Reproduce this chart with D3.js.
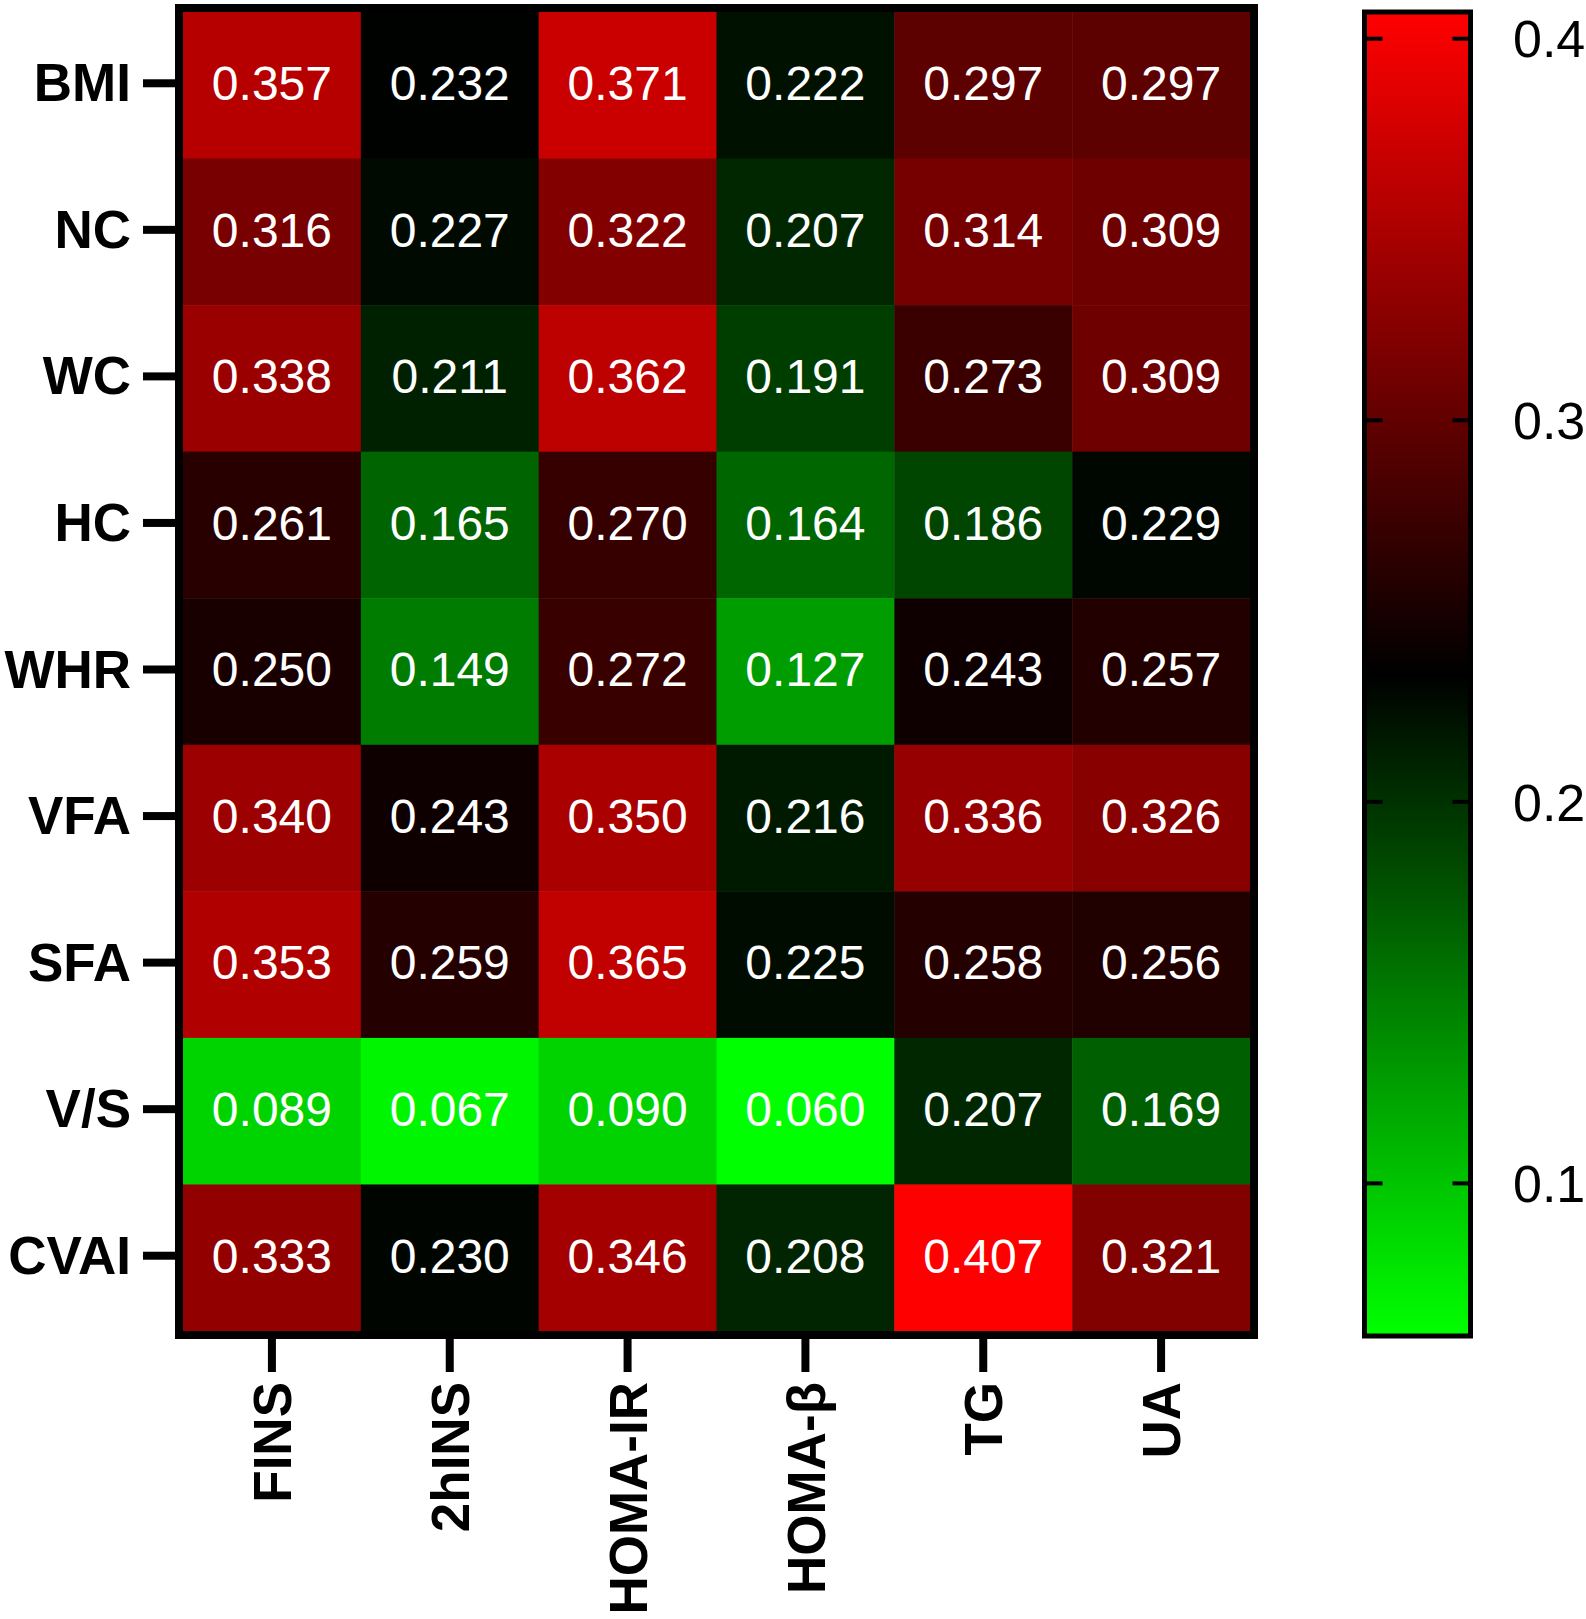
<!DOCTYPE html>
<html>
<head>
<meta charset="utf-8">
<script src="https://cdn.jsdelivr.net/npm/d3@7"></script>
<style>
  html, body { margin: 0; padding: 0; background: #fff; }
  svg { display: block; font-family: "Liberation Sans", Arial, Helvetica, sans-serif; }
</style>
</head>
<body>
<div id="chart"></div>
<script>
/* data */
var rowNames = ["BMI", "NC", "WC", "HC", "WHR", "VFA", "SFA", "V/S", "CVAI"];
var colNames = ["FINS", "2hINS", "HOMA-IR", "HOMA-\u03b2", "TG", "UA"];
var FINS    = [0.357, 0.316, 0.338, 0.261, 0.250, 0.340, 0.353, 0.089, 0.333];
var twoHINS = [0.232, 0.227, 0.211, 0.165, 0.149, 0.243, 0.259, 0.067, 0.230];
var HOMA_IR = [0.371, 0.322, 0.362, 0.270, 0.272, 0.350, 0.365, 0.090, 0.346];
var HOMA_B  = [0.222, 0.207, 0.191, 0.164, 0.127, 0.216, 0.225, 0.060, 0.208];
var TG      = [0.297, 0.314, 0.273, 0.186, 0.243, 0.336, 0.258, 0.207, 0.407];
var UA      = [0.297, 0.309, 0.309, 0.229, 0.257, 0.326, 0.256, 0.169, 0.321];
var colorDomain = [0.060, 0.407];
var colorbarTicks = [0.1, 0.2, 0.3, 0.4];

var columns = [FINS, twoHINS, HOMA_IR, HOMA_B, TG, UA];

/* layout */
var W = 1586, H = 1619;
var cellLeft = 183, cellRight = 1250, cellTop = 12, cellBottom = 1331;
var frameW = 8;
var cbLeft = 1364.5, cbRight = 1470.5, cbTop = 12, cbBottom = 1336;

var svg = d3.select("#chart").append("svg")
  .attr("width", W).attr("height", H);

var x = d3.scaleBand().domain(colNames).range([cellLeft, cellRight]);
var y = d3.scaleBand().domain(rowNames).range([cellTop, cellBottom]);

var mid = (colorDomain[0] + colorDomain[1]) / 2;
var color = d3.scaleLinear()
  .domain([colorDomain[0], mid, colorDomain[1]])
  .range(["#00ff00", "#000000", "#ff0000"]);

var cells = [];
colNames.forEach(function(c, j) {
  rowNames.forEach(function(r, i) {
    cells.push({row: r, col: c, value: columns[j][i]});
  });
});

var g = svg.append("g");

g.selectAll("rect.cell")
  .data(cells)
  .enter().append("rect")
  .attr("class", "cell")
  .attr("x", function(d) { return x(d.col); })
  .attr("y", function(d) { return y(d.row); })
  .attr("width", x.bandwidth() + 0.5)
  .attr("height", y.bandwidth() + 0.5)
  .attr("fill", function(d) { return color(d.value); });

g.selectAll("text.val")
  .data(cells)
  .enter().append("text")
  .attr("class", "val")
  .attr("x", function(d) { return x(d.col) + x.bandwidth() / 2; })
  .attr("y", function(d) { return y(d.row) + y.bandwidth() / 2; })
  .attr("dy", "0.31em")
  .attr("text-anchor", "middle")
  .attr("fill", "#fff")
  .style("font-size", "48px")
  .text(function(d) { return d.value.toFixed(3); });

// frame
svg.append("rect")
  .attr("x", cellLeft - frameW / 2)
  .attr("y", cellTop - frameW / 2)
  .attr("width", cellRight - cellLeft + frameW)
  .attr("height", cellBottom - cellTop + frameW)
  .attr("fill", "none")
  .attr("stroke", "#000")
  .attr("stroke-width", frameW);

// y axis
var yAxis = svg.append("g")
  .attr("transform", "translate(" + (cellLeft - frameW) + ",-2)")
  .call(d3.axisLeft(y).tickSize(32).tickPadding(12));
yAxis.select(".domain").remove();
yAxis.selectAll(".tick line").attr("stroke", "#000").attr("stroke-width", 8);
yAxis.selectAll(".tick text")
  .attr("fill", "#000")
  .attr("dy", "0.34em")
  .style("font-size", "53px")
  .style("font-weight", "bold")
  .style("font-family", "'Liberation Sans', Arial, sans-serif");

// x axis
var xAxis = svg.append("g")
  .attr("transform", "translate(0," + (cellBottom + frameW) + ")")
  .call(d3.axisBottom(x).tickSize(33).tickPadding(10));
xAxis.select(".domain").remove();
xAxis.selectAll(".tick line").attr("stroke", "#000").attr("stroke-width", 8);
xAxis.selectAll(".tick text")
  .attr("fill", "#000")
  .attr("transform", "rotate(-90)")
  .attr("x", -43)
  .attr("y", 0)
  .attr("dy", "0.36em")
  .attr("text-anchor", "end")
  .style("font-size", "53px")
  .style("font-weight", "bold")
  .style("font-family", "'Liberation Sans', Arial, sans-serif");

// colorbar
var cbScale = d3.scaleLinear().domain(colorDomain).range([cbBottom, cbTop]);

var defs = svg.append("defs");
var grad = defs.append("linearGradient")
  .attr("id", "cbgrad")
  .attr("x1", 0).attr("y1", 1).attr("x2", 0).attr("y2", 0);
grad.selectAll("stop")
  .data(d3.range(0, 1.0001, 0.05))
  .enter().append("stop")
  .attr("offset", function(t) { return t; })
  .attr("stop-color", function(t) {
    return color(colorDomain[0] + t * (colorDomain[1] - colorDomain[0]));
  });

svg.append("rect")
  .attr("x", cbLeft).attr("y", cbTop)
  .attr("width", cbRight - cbLeft).attr("height", cbBottom - cbTop)
  .attr("fill", "url(#cbgrad)")
  .attr("stroke", "#000")
  .attr("stroke-width", 5);

var cbT = svg.append("g").selectAll("g")
  .data(colorbarTicks)
  .enter().append("g")
  .attr("transform", function(d) { return "translate(0," + cbScale(d) + ")"; });
cbT.append("line")
  .attr("x1", cbLeft).attr("x2", cbLeft + 18)
  .attr("stroke", "#000").attr("stroke-width", 4);
cbT.append("line")
  .attr("x1", cbRight - 18).attr("x2", cbRight)
  .attr("stroke", "#000").attr("stroke-width", 4);
cbT.append("text")
  .attr("x", 1513)
  .attr("dy", "0.36em")
  .attr("fill", "#000")
  .style("font-size", "52px")
  .text(function(d) { return d3.format(".1f")(d); });
</script>
</body>
</html>
